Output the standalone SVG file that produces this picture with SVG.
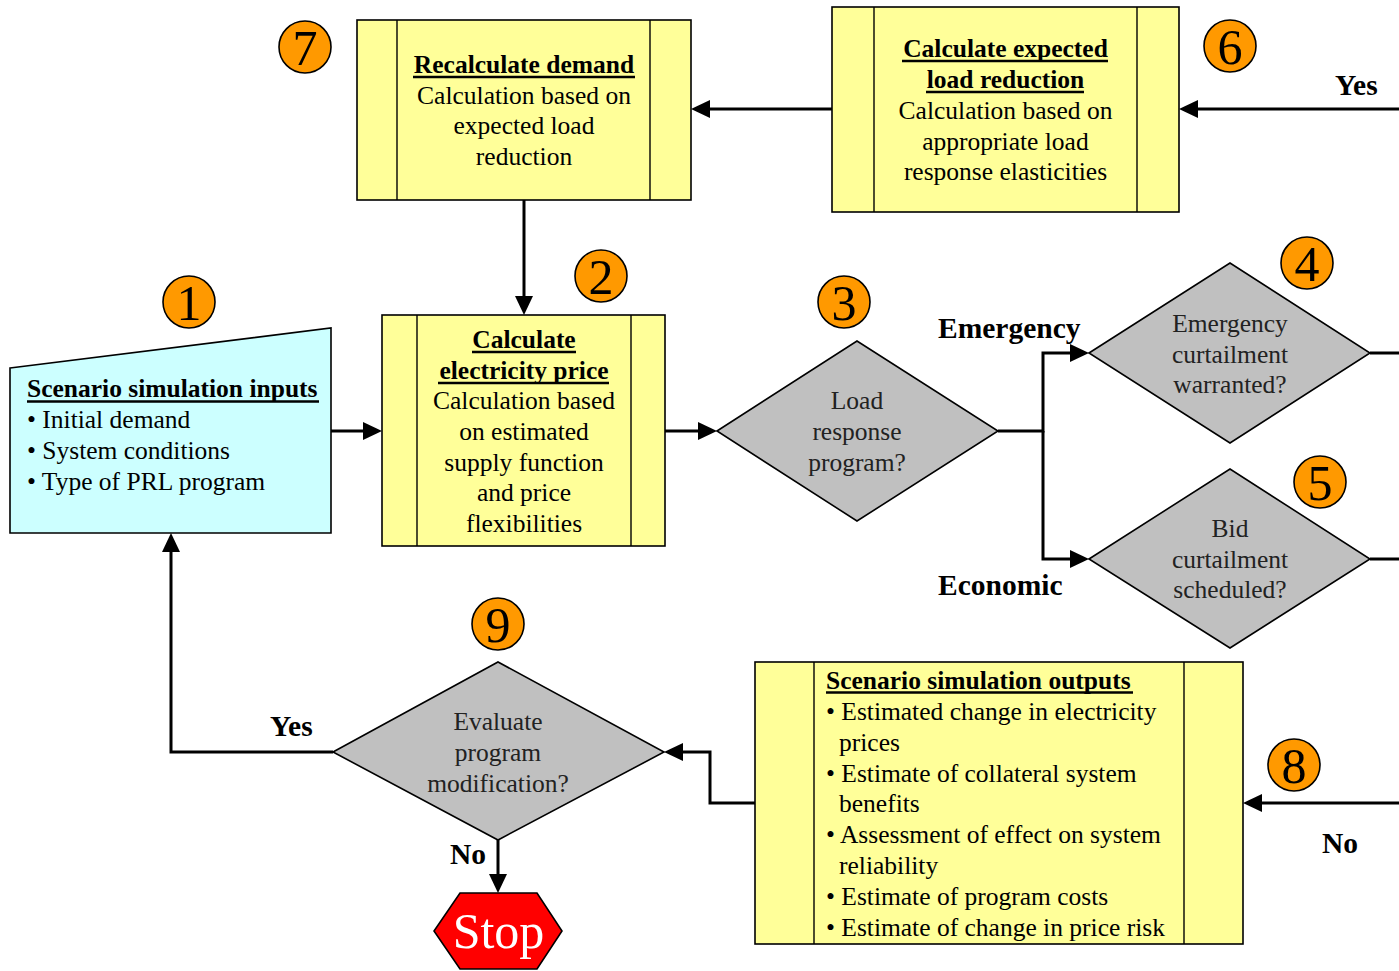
<svg xmlns="http://www.w3.org/2000/svg" width="1399" height="971" viewBox="0 0 1399 971">
<style>
text{font-family:"Liberation Serif","Times New Roman",serif;fill:#000}
.t{font-size:25.5px}
.b{font-size:25.5px;font-weight:bold}
.c{text-anchor:middle}
.lbl{font-size:29.5px;font-weight:bold}
.dt{font-size:25.5px;fill:#222;text-anchor:middle}
.num{font-size:50px;text-anchor:middle}
.box{fill:#FFFF99;stroke:#000;stroke-width:1.6}
.in{fill:none;stroke:#000;stroke-width:1.4}
.dia{fill:#C0C0C0;stroke:#000;stroke-width:1.6}
.badge{fill:#FF9900;stroke:#000;stroke-width:1.6}
.ul{stroke:#000;stroke-width:2.4}
.con{fill:none;stroke:#000;stroke-width:3}
</style>
<defs>
<marker id="arr" markerWidth="19" markerHeight="18" refX="15" refY="9" orient="auto" markerUnits="userSpaceOnUse">
<path d="M0,0 L19,9 L0,18 z" fill="#000"/>
</marker>
</defs>

<g id="connectors">
<path class="con" d="M331,431 H378" marker-end="url(#arr)"/>
<path class="con" d="M665,431 H713" marker-end="url(#arr)"/>
<path class="con" d="M524,200 V311" marker-end="url(#arr)"/>
<path class="con" d="M832,109 H695" marker-end="url(#arr)"/>
<path class="con" d="M1399,109 H1183" marker-end="url(#arr)"/>
<path class="con" d="M998,431 H1043 V353 H1085" marker-end="url(#arr)"/>
<path class="con" d="M1043,431 V559 H1085" marker-end="url(#arr)"/>
<path class="con" d="M1370,353 H1399"/>
<path class="con" d="M1370,559 H1399"/>
<path class="con" d="M1399,803 H1247" marker-end="url(#arr)"/>
<path class="con" d="M755,803 H710 V752 H668" marker-end="url(#arr)"/>
<path class="con" d="M333,752 H171 V537" marker-end="url(#arr)"/>
<path class="con" d="M498,840 V889" marker-end="url(#arr)"/>
<text class="lbl" x="938" y="338">Emergency</text>
<text class="lbl" x="938" y="595">Economic</text>
<text class="lbl" x="1335" y="95">Yes</text>
<text class="lbl" x="1322" y="853">No</text>
<text class="lbl" x="270" y="736">Yes</text>
<text class="lbl" x="450" y="864">No</text>
</g>

<g id="node1">
<path d="M10,368 L331,328 L331,533 L10,533 Z" fill="#CCFFFF" stroke="#000" stroke-width="1.6"/>
<text class="b" x="27" y="397">Scenario simulation inputs</text>
<line class="ul" x1="27" y1="401.5" x2="319" y2="401.5"/>
<text class="t" x="27" y="428">• Initial demand</text>
<text class="t" x="27" y="459">• System conditions</text>
<text class="t" x="27" y="490">• Type of PRL program</text>
<circle class="badge" cx="189" cy="302" r="26"/>
<text class="num" x="189" y="320">1</text>
</g>

<g id="node2">
<rect class="box" x="382" y="315" width="283" height="231"/>
<line class="in" x1="417" y1="315" x2="417" y2="546"/>
<line class="in" x1="631" y1="315" x2="631" y2="546"/>
<text class="b c" x="524" y="348">Calculate</text>
<line class="ul" x1="472" y1="352" x2="576" y2="352"/>
<text class="b c" x="524" y="379">electricity price</text>
<line class="ul" x1="438" y1="383" x2="609" y2="383"/>
<text class="t c" x="524" y="409">Calculation based</text>
<text class="t c" x="524" y="440">on estimated</text>
<text class="t c" x="524" y="471">supply function</text>
<text class="t c" x="524" y="501">and price</text>
<text class="t c" x="524" y="532">flexibilities</text>
<circle class="badge" cx="601" cy="276" r="26"/>
<text class="num" x="601" y="294">2</text>
</g>

<g id="node3">
<polygon class="dia" points="717,431 857,341 998,431 857,521"/>
<text class="dt" x="857" y="409">Load</text>
<text class="dt" x="857" y="440">response</text>
<text class="dt" x="857" y="471">program?</text>
<circle class="badge" cx="844" cy="302" r="26"/>
<text class="num" x="844" y="320">3</text>
</g>

<g id="node4">
<polygon class="dia" points="1089,353 1230,263 1370,353 1230,443"/>
<text class="dt" x="1230" y="332">Emergency</text>
<text class="dt" x="1230" y="363">curtailment</text>
<text class="dt" x="1230" y="393">warranted?</text>
<circle class="badge" cx="1307" cy="263" r="26"/>
<text class="num" x="1307" y="281">4</text>
</g>

<g id="node5">
<polygon class="dia" points="1089,559 1230,469 1370,559 1230,648"/>
<text class="dt" x="1230" y="537">Bid</text>
<text class="dt" x="1230" y="568">curtailment</text>
<text class="dt" x="1230" y="598">scheduled?</text>
<circle class="badge" cx="1320" cy="482" r="26"/>
<text class="num" x="1320" y="500">5</text>
</g>

<g id="node6">
<rect class="box" x="832" y="7" width="347" height="205"/>
<line class="in" x1="874" y1="7" x2="874" y2="212"/>
<line class="in" x1="1137" y1="7" x2="1137" y2="212"/>
<text class="b c" x="1005.5" y="57">Calculate expected</text>
<line class="ul" x1="902" y1="61" x2="1108" y2="61"/>
<text class="b c" x="1005.5" y="88">load reduction</text>
<line class="ul" x1="926" y1="92" x2="1084" y2="92"/>
<text class="t c" x="1005.5" y="119">Calculation based on</text>
<text class="t c" x="1005.5" y="150">appropriate load</text>
<text class="t c" x="1005.5" y="180">response elasticities</text>
<circle class="badge" cx="1230" cy="46" r="26"/>
<text class="num" x="1230" y="64">6</text>
</g>

<g id="node7">
<rect class="box" x="357" y="20" width="334" height="180"/>
<line class="in" x1="397" y1="20" x2="397" y2="200"/>
<line class="in" x1="650" y1="20" x2="650" y2="200"/>
<text class="b c" x="524" y="73">Recalculate demand</text>
<line class="ul" x1="413" y1="77" x2="635" y2="77"/>
<text class="t c" x="524" y="104">Calculation based on</text>
<text class="t c" x="524" y="134">expected load</text>
<text class="t c" x="524" y="165">reduction</text>
<circle class="badge" cx="305" cy="47" r="26"/>
<text class="num" x="305" y="65">7</text>
</g>

<g id="node8">
<rect class="box" x="755" y="662" width="488" height="282"/>
<line class="in" x1="814" y1="662" x2="814" y2="944"/>
<line class="in" x1="1184" y1="662" x2="1184" y2="944"/>
<text class="b" x="826" y="689">Scenario simulation outputs</text>
<line class="ul" x1="826" y1="692.5" x2="1133" y2="692.5"/>
<text class="t" x="826" y="720">• Estimated change in electricity</text>
<text class="t" x="839" y="751">prices</text>
<text class="t" x="826" y="782">• Estimate of collateral system</text>
<text class="t" x="839" y="812">benefits</text>
<text class="t" x="826" y="843">• Assessment of effect on system</text>
<text class="t" x="839" y="874">reliability</text>
<text class="t" x="826" y="905">• Estimate of program costs</text>
<text class="t" x="826" y="936">• Estimate of change in price risk</text>
<circle class="badge" cx="1294" cy="765" r="26"/>
<text class="num" x="1294" y="783">8</text>
</g>

<g id="node9">
<polygon class="dia" points="333,752 498,662 664,752 498,840"/>
<text class="dt" x="498" y="730">Evaluate</text>
<text class="dt" x="498" y="761">program</text>
<text class="dt" x="498" y="792">modification?</text>
<circle class="badge" cx="498" cy="624" r="26"/>
<text class="num" x="498" y="642">9</text>
</g>

<g id="stop">
<polygon points="460,893 537,893 562,931 537,969 460,969 434,931" fill="#FF0000" stroke="#000" stroke-width="1.6"/>
<text x="498.5" y="948" style="font-size:50px;fill:#fff;text-anchor:middle">Stop</text>
</g>
</svg>
